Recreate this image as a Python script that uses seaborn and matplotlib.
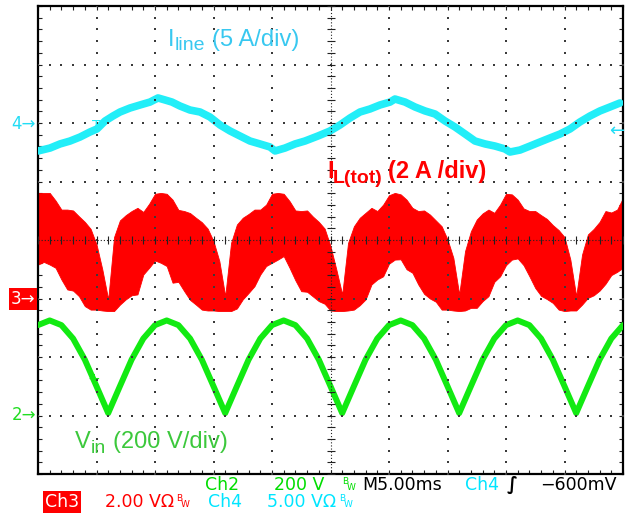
import numpy as np
import pandas as pd
import matplotlib
matplotlib.use("Agg")
import matplotlib.pyplot as plt
import seaborn as sns

# ---------------- data ----------------
# Channel 4: line current I_line (5 A/div), time in ms
t_line_ms = [0, 1.03, 1.88, 2.74, 3.59, 4.44, 5.04, 5.73, 6.41, 7.01,
             7.86, 8.72, 9.57, 10.26, 10.85, 11.45, 12.14, 12.99, 13.85, 14.70,
             15.13, 15.56, 16.41, 17.26, 18.12, 18.97, 19.83, 20.26, 21.11, 21.97,
             22.82, 23.93, 24.96, 25.81, 26.67, 27.52, 28.38, 29.23, 30.09, 30.51,
             31.37, 32.22, 33.08, 33.93, 34.79, 35.64, 36.50, 37.35, 38.21, 39.06,
             39.91, 40.34, 41.20, 42.05, 42.91, 43.76, 44.62, 45.47, 46.32, 47.18,
             48.03, 48.89, 49.74]
i_line_a = [-2.39, -2.14, -1.79, -1.54, -1.20, -0.77, -0.51, 0.17, 0.60, 0.94,
            1.28, 1.54, 1.79, 2.14, 1.97, 1.79, 1.45, 1.11, 0.94, 0.51,
            0.17, -0.17, -0.68, -1.11, -1.54, -1.79, -2.05, -2.39, -2.14, -1.79,
            -1.54, -1.11, -0.68, -0.17, 0.43, 0.94, 1.20, 1.54, 1.79, 2.05,
            1.79, 1.37, 1.03, 0.77, 0.17, -0.34, -0.94, -1.54, -1.79, -1.97,
            -2.22, -2.48, -2.31, -1.97, -1.62, -1.28, -0.94, -0.51, 0.09, 0.60,
            1.03, 1.37, 1.71]

# Channel 2: rectified input voltage V_in (200 V/div), 1 ms samples
t_vin_ms = list(range(51))
vin_v = [309, 325, 309, 263, 191, 100, 8, 100, 191, 263,
         309, 325, 309, 263, 191, 100, 8, 100, 191, 263,
         309, 325, 309, 263, 191, 100, 8, 100, 191, 263,
         309, 325, 309, 263, 191, 100, 8, 100, 191, 263,
         309, 325, 309, 263, 191, 100, 8, 100, 191, 263, 309]

# Channel 3: total inductor current I_L(tot) (2 A/div), ripple envelope, 0.5 ms samples
t_il_ms = [k * 0.5 for k in range(101)]
il_upper_a = [3.61, 3.61, 3.61, 3.35, 3.04, 3.04, 3.01, 2.81, 2.62, 2.38,
              1.85, 0.99, -0.03, 2.10, 2.67, 2.85, 2.99, 3.10, 2.96, 3.24,
              3.58, 3.61, 3.58, 3.38, 3.03, 2.99, 2.92, 2.76, 2.61, 2.39,
              1.96, 1.28, 0.08, 1.90, 2.53, 2.76, 2.89, 3.04, 3.04, 3.21,
              3.58, 3.61, 3.58, 3.33, 3.01, 2.99, 3.01, 2.80, 2.62, 2.39,
              1.79, 0.99, 0.14, 1.90, 2.47, 2.76, 2.93, 3.10, 2.99, 3.21,
              3.53, 3.61, 3.56, 3.38, 3.10, 2.99, 3.01, 2.87, 2.67, 2.47,
              2.02, 1.39, 0.14, 1.62, 2.30, 2.70, 2.91, 3.04, 2.93, 3.21,
              3.58, 3.56, 3.38, 3.08, 2.99, 2.99, 2.85, 2.72, 2.51, 2.34,
              2.10, 1.33, 0.08, 1.50, 2.19, 2.38, 2.62, 2.99, 2.94, 3.04,
              3.44]
il_lower_a = [1.16, 1.25, 1.16, 1.05, 0.65, 0.31, 0.27, 0.08, -0.26, -0.38,
              -0.38, -0.41, -0.43, -0.43, -0.21, -0.03, 0.11, 0.14, 0.82, 1.05,
              1.30, 1.22, 1.11, 0.54, 0.57, 0.25, -0.05, -0.21, -0.38, -0.41,
              -0.41, -0.43, -0.43, -0.43, -0.34, -0.03, 0.19, 0.42, 0.82, 1.11,
              1.22, 1.33, 1.45, 1.05, 0.62, 0.25, 0.23, 0.07, -0.09, -0.18,
              -0.41, -0.43, -0.43, -0.41, -0.38, -0.23, -0.03, 0.48, 0.65, 0.76,
              1.19, 1.33, 1.34, 1.00, 0.88, 0.48, 0.16, 0.00, -0.11, -0.38,
              -0.38, -0.41, -0.43, -0.41, -0.32, -0.32, -0.09, 0.08, 0.57, 0.76,
              1.14, 1.33, 1.37, 1.14, 0.76, 0.36, 0.09, -0.02, -0.15, -0.38,
              -0.43, -0.41, -0.41, -0.21, 0.02, 0.11, 0.27, 0.50, 0.80, 0.91,
              1.05]

# scope settings: units/div and ground-marker positions (in divisions)
scale_line, offset_line = 5.0, 2.0
scale_il, offset_il = 2.0, -1.0
scale_vin, offset_vin = 200.0, -3.0

# ---------------- styling ----------------
sns.set_style("white")
plt.rcParams["font.family"] = ["Liberation Sans", "DejaVu Sans"]

W, H = 626, 514
CYAN = "#22EEF8"
CYAN_TXT = "#38C8F0"
GREEN = "#12EA12"
GREEN_TXT = "#3CC83C"
RED = "#FF0000"

fig = plt.figure(figsize=(W / 100, H / 100), dpi=100)
fig.patch.set_facecolor("white")
ax = fig.add_axes([38 / W, 1 - 474 / H, 585 / W, 468 / H])
ax.set_xlim(0, 50)
ax.set_ylim(-4, 4)


def P(x, y):
    return x / W, 1 - y / H


# ---------------- traces ----------------
ax.fill_between(t_il_ms,
                [offset_il + v / scale_il for v in il_lower_a],
                [offset_il + v / scale_il for v in il_upper_a],
                color=RED, lw=0.6, edgecolor=RED, zorder=2)

df_line = pd.DataFrame({"t": t_line_ms, "y": [offset_line + v / scale_line for v in i_line_a]})
sns.lineplot(data=df_line, x="t", y="y", ax=ax, color=CYAN, lw=5.5,
             sort=False, estimator=None, zorder=3)

df_vin = pd.DataFrame({"t": t_vin_ms, "y": [offset_vin + v / scale_vin for v in vin_v]})
sns.lineplot(data=df_vin, x="t", y="y", ax=ax, color=GREEN, lw=4.3,
             sort=False, estimator=None, zorder=3)

# ---------------- graticule ----------------
ys_dots = np.arange(-4, 4.001, 0.2)
xs_dots = np.arange(0, 50.001, 1.0)
dot = dict(s=1.0, c="#3a3a3a", marker="s", lw=0, zorder=6)
for gx in range(5, 50, 5):
    if gx == 25:
        continue
    ax.scatter(np.full_like(ys_dots, gx), ys_dots, **dot)
for gy in range(-3, 4):
    if gy == 0:
        continue
    ax.scatter(xs_dots, np.full_like(xs_dots, gy), **dot)
# centre cross with minor ticks
ax.plot([0, 50], [0, 0], color="#222222", lw=0.8, ls=(0, (1, 1.8)), zorder=6)
ax.plot([25, 25], [-4, 4], color="#222222", lw=0.8, ls=(0, (1, 1.8)), zorder=6)
ax.scatter(xs_dots, np.zeros_like(xs_dots), marker="|", s=26, lw=0.8, c="#222222", zorder=6)
ax.scatter(np.full_like(ys_dots, 25), ys_dots, marker="_", s=26, lw=0.8, c="#222222", zorder=6)

ax.set_xticks(xs_dots)
ax.set_yticks(ys_dots)
ax.tick_params(direction="in", length=3, width=0.8, color="#222222",
               top=True, right=True, bottom=True, left=True,
               labelbottom=False, labelleft=False)
for sp in ax.spines.values():
    sp.set_visible(True)
    sp.set_color("black")
    sp.set_linewidth(1.6)
ax.set_xlabel("")
ax.set_ylabel("")

# ---------------- trace labels ----------------
fig.text(*P(168, 46), "I", color=CYAN_TXT, fontsize=17, va="baseline")
fig.text(*P(175, 50), "line", color=CYAN_TXT, fontsize=14, va="baseline")
fig.text(*P(212, 46), "(5 A/div)", color=CYAN_TXT, fontsize=17, va="baseline")

fig.text(*P(327, 178), "I", color=RED, fontsize=17, fontweight="bold", va="baseline")
fig.text(*P(333, 183), "L(tot)", color=RED, fontsize=14, fontweight="bold", va="baseline")
fig.text(*P(388, 178), "(2 A /div)", color=RED, fontsize=17, fontweight="bold", va="baseline")

fig.text(*P(75, 448), "V", color=GREEN_TXT, fontsize=17, va="baseline")
fig.text(*P(91, 453), "in", color=GREEN_TXT, fontsize=14, va="baseline")
fig.text(*P(113, 448), "(200 V/div)", color=GREEN_TXT, fontsize=17, va="baseline")

# ---------------- channel markers ----------------
mk = dict(family="DejaVu Sans", fontsize=12, va="center", ha="right")
fig.text(*P(36, 124), "4\u2192", color="#22DDF5", **mk)
fig.text(*P(35, 299), "3\u2192", color="white",
         bbox=dict(facecolor=RED, edgecolor="none", pad=1.2), **mk)
fig.text(*P(36, 415), "2\u2192", color="#22DD22", **mk)
fig.text(*P(624, 131), "\u2190", color="#22DDF5", family="DejaVu Sans",
         fontsize=13, va="center", ha="right", zorder=10)
fig.text(*P(96, 126), "T", color=CYAN, family="DejaVu Sans", fontsize=10,
         va="center", ha="center", zorder=10)
fig.text(*P(94, 380), "+", color=GREEN, family="DejaVu Sans", fontsize=11,
         va="center", ha="center", zorder=10)

# ---------------- status lines ----------------
st = dict(family="DejaVu Sans", fontsize=12.5, va="baseline")
bw = dict(family="DejaVu Sans", fontsize=6.5, va="baseline")
fig.text(*P(205, 490), "Ch2", color="#00DD00", **st)
fig.text(*P(274, 490), "200 V", color="#00DD00", **st)
fig.text(*P(342, 484), "B", color="#00DD00", **bw)
fig.text(*P(347, 490), "W", color="#00DD00", **bw)
fig.text(*P(362, 490), "M5.00ms", color="black", **st)
fig.text(*P(465, 490), "Ch4", color="#00E5FF", **st)
fig.text(*P(507, 490), "\u222B", color="black", family="DejaVu Sans", fontsize=13,
         fontweight="bold", va="baseline")
fig.text(*P(540, 490), "\u2212600mV", color="black", **st)

fig.text(*P(45, 507), "Ch3", color="white",
         bbox=dict(facecolor=RED, edgecolor="none", pad=1.2), **st)
fig.text(*P(105, 507), "2.00 V\u03A9", color=RED, **st)
fig.text(*P(176, 501), "B", color=RED, **bw)
fig.text(*P(181, 507), "W", color=RED, **bw)
fig.text(*P(208, 507), "Ch4", color="#00E5FF", **st)
fig.text(*P(267, 507), "5.00 V\u03A9", color="#00E5FF", **st)
fig.text(*P(339, 501), "B", color="#00E5FF", **bw)
fig.text(*P(344, 507), "W", color="#00E5FF", **bw)

fig.savefig("out.png", dpi=100, facecolor="white")
